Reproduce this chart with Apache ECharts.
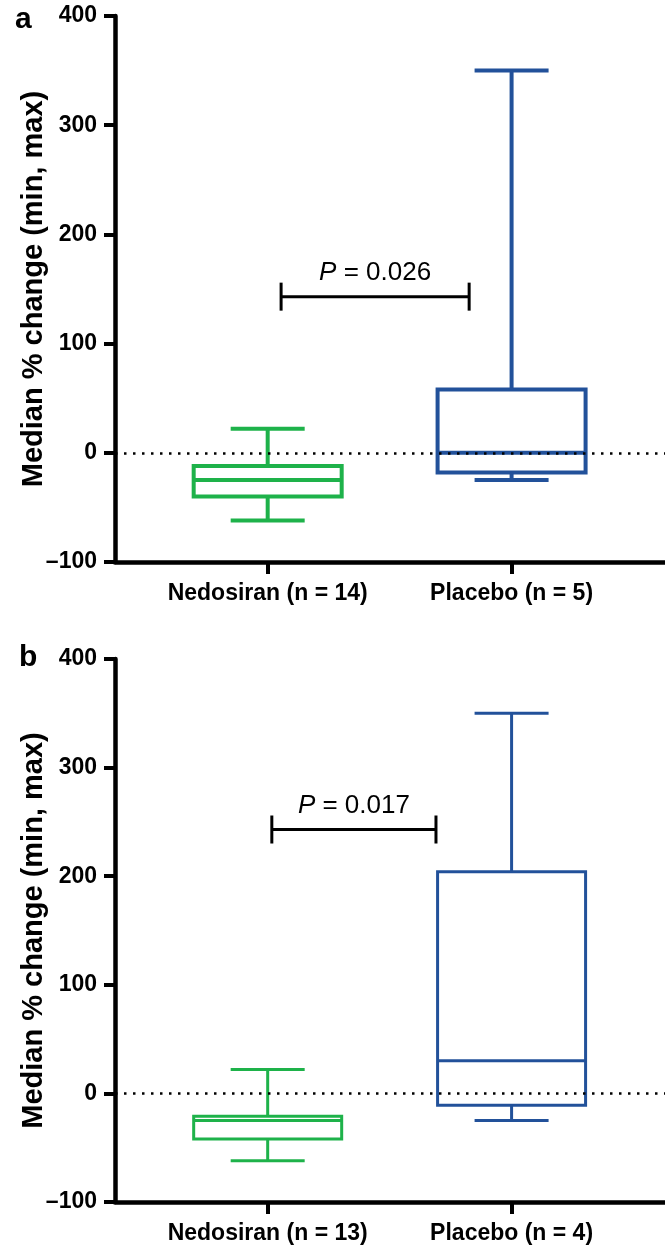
<!DOCTYPE html>
<html>
<head>
<meta charset="utf-8">
<script src="https://cdn.jsdelivr.net/npm/echarts@6/dist/echarts.min.js"></script>
<style>
  html, body { margin: 0; padding: 0; background: #fff; }
  #main { width: 665px; height: 1247px; }
</style>
</head>
<body>
<div id="main"></div>
<script>
// categories of each panel
const catsA = ["Nedosiran (n = 14)", "Placebo (n = 5)"];
const catsB = ["Nedosiran (n = 13)", "Placebo (n = 4)"];
// box values: [min, Q1, median, Q3, max]
const nedosiranA = [-62, -40, -25, -12, 22];
const placeboA = [-25, -18, 0, 58, 350];
const nedosiranB = [-62, -42, -25, -21, 22];
const placeboB = [-25, -11, 30, 204, 350];
// significance bars: [x from, x to, y]
const sigA = [0.055, 0.826, 143];
const sigB = [0.017, 0.69, 243];
const pA = "0.026";
const pB = "0.017";
const yTicks = [-100, 0, 100, 200, 300, 400];

const GREEN = "#1eb24a";
const BLUE = "#22519a";
const FONT = "'Liberation Sans', Arial, sans-serif";

const myChart = echarts.init(document.getElementById("main"));

// box with whiskers, caps half as wide as the box
function boxRender(lw) {
  return function (params, api) {
    const x = api.value(0);
    const p = [1, 2, 3, 4, 5].map((i) => api.coord([x, api.value(i)]));
    const cx = p[0][0];
    const hw = 74, cw = 37;
    const color = api.visual("color");
    const st = { stroke: color, lineWidth: lw, fill: null };
    return {
      type: "group",
      children: [
        { type: "rect", shape: { x: cx - hw, y: p[3][1], width: hw * 2, height: p[1][1] - p[3][1] }, style: st },
        { type: "line", shape: { x1: cx - hw, y1: p[2][1], x2: cx + hw, y2: p[2][1] }, style: st },
        { type: "line", shape: { x1: cx, y1: p[3][1], x2: cx, y2: p[4][1] }, style: st },
        { type: "line", shape: { x1: cx, y1: p[1][1], x2: cx, y2: p[0][1] }, style: st },
        { type: "line", shape: { x1: cx - cw, y1: p[4][1], x2: cx + cw, y2: p[4][1] }, style: st },
        { type: "line", shape: { x1: cx - cw, y1: p[0][1], x2: cx + cw, y2: p[0][1] }, style: st },
      ],
    };
  };
}

function sigRender(pval) {
  return function (params, api) {
    const a = api.coord([api.value(0), api.value(2)]);
    const b = api.coord([api.value(1), api.value(2)]);
    const st = { stroke: "#000", lineWidth: 3 };
    return {
      type: "group",
      children: [
        { type: "line", shape: { x1: a[0], y1: a[1], x2: b[0], y2: b[1] }, style: st },
        { type: "line", shape: { x1: a[0], y1: a[1] - 14, x2: a[0], y2: a[1] + 14 }, style: st },
        { type: "line", shape: { x1: b[0], y1: b[1] - 14, x2: b[0], y2: b[1] + 14 }, style: st },
        {
          type: "text",
          x: (a[0] + b[0]) / 2,
          y: a[1] - 11,
          style: {
            text: "{i|P} = " + pval,
            align: "center",
            verticalAlign: "bottom",
            fill: "#000",
            font: "26px " + FONT,
            rich: { i: { fontStyle: "italic", fontSize: 26, fontFamily: FONT } },
          },
        },
      ],
    };
  };
}

function xAxis(idx, cats) {
  return {
    type: "value",
    gridIndex: idx,
    min: -0.626,
    max: 1.629,
    splitLine: { show: false },
    axisLine: { onZero: false, lineStyle: { color: "#000", width: 4.5 } },
    axisTick: { customValues: [0, 1], length: 12, lineStyle: { color: "#000", width: 4 } },
    axisLabel: {
      customValues: [0, 1],
      margin: 20,
      color: "#000",
      fontWeight: "bold",
      fontSize: 23,
      fontFamily: FONT,
      formatter: (v) => cats[Math.round(v)],
    },
  };
}

function yAxis(idx) {
  return {
    type: "value",
    gridIndex: idx,
    min: yTicks[0],
    max: yTicks[yTicks.length - 1],
    interval: 100,
    splitLine: { show: false },
    axisLine: { show: true, onZero: false, lineStyle: { color: "#000", width: 4.5 } },
    axisTick: { show: true, length: 11, lineStyle: { color: "#000", width: 4 } },
    axisLabel: {
      margin: 18,
      color: "#000",
      fontWeight: "bold",
      fontSize: 23,
      fontFamily: FONT,
      formatter: (v) => (v < 0 ? "\u2013" + Math.abs(v) : String(v)),
    },
    name: "Median % change (min, max)",
    nameLocation: "middle",
    nameGap: 67,
    nameMoveOverlap: false,
    nameTextStyle: { color: "#000", fontWeight: "bold", fontSize: 29, fontFamily: FONT },
  };
}

function boxSeries(idx, ned, pla, lw) {
  return {
    type: "custom",
    xAxisIndex: idx,
    yAxisIndex: idx,
    renderItem: boxRender(lw),
    encode: { x: 0, y: [1, 2, 3, 4, 5] },
    data: [
      { value: [0].concat(ned), itemStyle: { color: GREEN } },
      { value: [1].concat(pla), itemStyle: { color: BLUE } },
    ],
    markLine: {
      silent: true,
      symbol: "none",
      label: { show: false },
      lineStyle: { color: "#000", width: 2.5, type: [2.5, 6.5] },
      data: [{ yAxis: 0 }],
    },
    z: 3,
  };
}

function sigSeries(idx, sig, p) {
  return {
    type: "custom",
    xAxisIndex: idx,
    yAxisIndex: idx,
    renderItem: sigRender(p),
    encode: { x: [0, 1], y: 2 },
    data: [sig],
  };
}

const option = {
  animation: false,
  backgroundColor: "#fff",
  title: [
    { text: "a", left: 10, top: 0, textStyle: { fontSize: 30, fontWeight: "bold", color: "#000", fontFamily: FONT } },
    { text: "b", left: 14, top: 638, textStyle: { fontSize: 30, fontWeight: "bold", color: "#000", fontFamily: FONT } },
  ],
  grid: [
    { left: 115, right: 0, top: 16, height: 546 },
    { left: 115, right: 0, top: 659, height: 543 },
  ],
  xAxis: [xAxis(0, catsA), xAxis(1, catsB)],
  yAxis: [yAxis(0), yAxis(1)],
  series: [
    boxSeries(0, nedosiranA, placeboA, 4),
    sigSeries(0, sigA, pA),
    boxSeries(1, nedosiranB, placeboB, 3),
    sigSeries(1, sigB, pB),
  ],
};
myChart.setOption(option);
</script>
</body>
</html>
